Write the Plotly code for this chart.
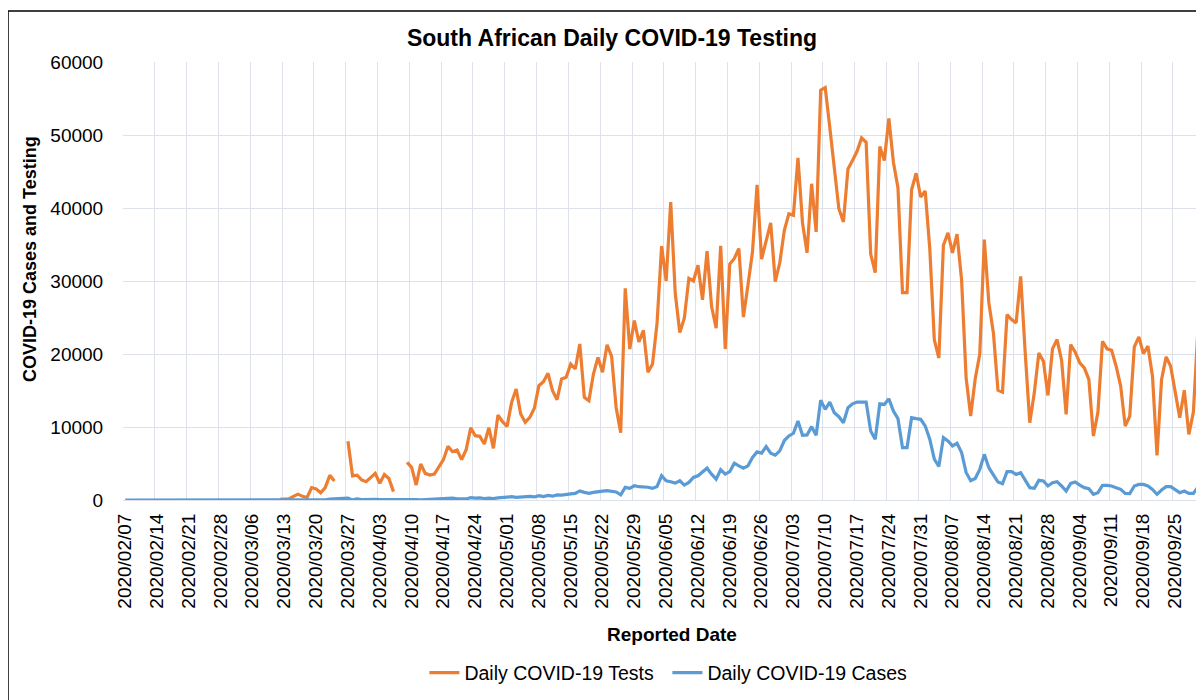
import plotly.graph_objects as go
import pandas as pd

START_DATE = "2020-02-07"

# Daily COVID-19 tests (None = no data reported)
daily_tests = (
    [None] * 34
    + [100, 150, 150, 500, 800, 500, 350, 1700, 1500, 1000, 1700, 3400, 2600]
    + [None, None]
    + [8050, 3300, 3400, 2750, 2500, 3100, 3650, 2300, 3500, 2950, 1150]
    + [None, None]
    + [5160, 4475, 2055, 4930, 3650, 3425, 3560, 4600, 5525, 7350, 6620, 6850,
       5525, 6900, 9900, 8810, 8720, 7670, 9900, 7080, 11640, 10730, 10090,
       13380, 15200, 11780, 10640, 11320, 12560, 15660, 16210, 17350, 14980,
       13740, 16580, 16800, 18630, 17950, 21370, 14060, 13600, 17260, 19540]
    + [17500, 21270, 19680, 12640, 9230, 29000, 20680, 24590, 21640, 23230,
       17500, 18640, 24230, 34770, 30000, 40820, 28320, 22950, 24910, 30360,
       30000, 32180, 27410, 34090, 26500, 23550, 34820, 20680, 32320, 33090,
       34450, 25050, 29450, 34000, 43180, 33000, 35500, 37950, 29900, 32500,
       36950, 39200]
    + [39000, 46860, 37950, 33860, 43320, 36730, 56140, 56500, 51050, 45500,
       39900, 38090, 45360, 46500, 47770, 49590, 49000, 33680, 31140, 48410,
       46500, 52270, 46270, 42770, 28410, 28410, 42500, 44770, 41500, 42320,
       34450, 21950, 19450, 34900, 36590, 33860, 36410, 30140, 16730, 11500,
       16600, 20000]
    + [35660, 27000, 22890, 15050, 14770, 25400, 24720, 24260, 30640, 20150,
       10580, 14680, 20150, 19020, 14320, 20700, 21980, 19150, 11720, 21300,
       20250, 18790, 18100, 16510, 8760, 12040, 21750, 20700, 20520, 18330,
       15600, 10120, 11490, 20980, 22340, 20060, 21070, 16960, 6110, 16510,
       19610, 18330, 14680, 11260, 15050, 8980, 12040, 23440, 21070]
)

# Daily COVID-19 cases
daily_cases = (
    [0] * 27
    + [1, 0, 1, 0, 1, 3, 4]
    + [4, 8, 14, 10, 15, 23, 31, 34, 52, 38, 34, 128, 152, 155, 218, 243, 17, 146, 46]
    + [82, 30, 80, 45, 75, 70, 65, 40, 70, 25, 95, 55, 30, 50, 70, 100, 90, 180,
       150, 250, 145, 175, 145, 320, 250, 300, 200, 250, 200, 300, 355, 380, 450,
       365, 440, 470, 500, 420, 600, 460, 620, 520, 700, 680, 800, 850, 900, 1250,
       1050]
    + [900, 1050, 1180, 1220, 1270, 1180, 1100, 700, 1730, 1590, 1950, 1820,
       1820, 1750, 1590, 1860, 3320, 2640, 2500, 2320, 2640, 2050, 2410, 3090,
       3320, 3860, 4360, 3545, 2860, 4140, 3545, 3900, 5045, 4680, 4360, 4680,
       5820, 6590, 6410, 7320, 6410, 6140, 6730, 8150]
    + [8770, 9140, 10820, 8860, 8910, 10050, 8860, 13680, 12410, 13410, 11950,
       11410, 10590, 12640, 13180, 13410, 13410, 13410, 9450, 8320, 13180, 13090,
       13860, 12180, 11140, 7180, 7180, 11270, 11140, 11050, 10140, 8320, 5590,
       4590, 8550, 8090, 7410, 7770, 6500, 3770, 2640, 2950, 4200]
    + [6250, 4420, 3510, 2460, 2230, 3880, 3880, 3510, 3740, 2740, 1690, 1600,
       2690, 2600, 1920, 2370, 2510, 1920, 1230, 2280, 2460, 2050, 1690, 1550,
       780, 1000, 2010, 2010, 1920, 1690, 1460, 910, 870, 1920, 2140, 2140, 1920,
       1460, 780, 1370, 1820, 1820, 1460, 1000, 1230, 910, 910, 1780, 1780]
)

dates = pd.date_range(START_DATE + " 12:00", periods=len(daily_cases), freq="D")

FONT = "Liberation Sans, Arial, sans-serif"
GRID = "#DCE1EA"

# The page body adds an 8px margin, so the figure is 8px smaller each way.
W, H = 1196, 692

fig = go.Figure()
fig.add_trace(go.Scatter(x=dates, y=daily_tests, mode="lines",
                         name="Daily COVID-19 Tests",
                         line=dict(color="#ED7D31", width=3.2)))
fig.add_trace(go.Scatter(x=dates, y=daily_cases, mode="lines",
                         name="Daily COVID-19 Cases",
                         line=dict(color="#5B9BD5", width=3.2)))

fig.update_layout(
    width=W, height=H,
    margin=dict(l=115, r=0, t=54, b=200),
    paper_bgcolor="white", plot_bgcolor="white",
    font=dict(family=FONT, color="#000000", size=19),
    title=dict(text="<b>South African Daily COVID-19 Testing</b>",
               x=604 / W, xanchor="center", xref="container",
               y=1 - 30 / H, yanchor="middle", yref="container",
               font=dict(size=23, family=FONT, color="#000000")),
    showlegend=True,
    legend=dict(orientation="h", x=0.5036, xanchor="center",
                y=(500 - 673) / 438, yanchor="middle",
                font=dict(size=19.5, family=FONT, color="#000000"),
                itemwidth=30, entrywidth=198, entrywidthmode="pixels",
                bgcolor="rgba(0,0,0,0)"),
    xaxis=dict(
        type="date",
        range=["2020-02-07 00:00", "2020-10-01 20:00"],
        tick0="2020-02-07", dtick=7 * 86400000,
        tickformat="%Y/%m/%d", tickangle=-90,
        tickfont=dict(size=19, family=FONT, color="#000000"),
        showgrid=True, gridcolor=GRID, gridwidth=1.3,
        ticks="outside", ticklen=5, tickcolor="rgba(0,0,0,0)",
        ticklabelshift=2,
        showline=False, zeroline=False,
    ),
    yaxis=dict(
        range=[0, 60000], dtick=10000, tickformat="d",
        tickfont=dict(size=19, family=FONT, color="#000000"),
        showgrid=True, gridcolor=GRID, gridwidth=1.3,
        zeroline=True, zerolinecolor=GRID, zerolinewidth=1.3,
        ticks="outside", ticklen=15, tickcolor="rgba(0,0,0,0)",
        showline=False,
    ),
    annotations=[
        dict(text="<b>Reported Date</b>", xref="paper", yref="paper",
             x=(672 - 123) / 1081, y=(500 - 634) / 438,
             xanchor="center", yanchor="middle", showarrow=False,
             font=dict(size=19, family=FONT, color="#000000")),
        dict(text="<b>COVID-19 Cases and Testing</b>", xref="paper", yref="paper",
             x=(30 - 123) / 1081, y=(500 - 259) / 438, textangle=-90,
             xanchor="center", yanchor="middle", showarrow=False,
             font=dict(size=18, family=FONT, color="#000000")),
    ],
    shapes=[
        dict(type="rect", xref="paper", yref="paper",
             x0=(8 - 123) / 1081, x1=1.2,
             y0=-0.8, y1=(500 - 11) / 438,
             line=dict(color="#000000", width=1.5), fillcolor="rgba(0,0,0,0)",
             layer="below"),
    ],
)

fig.write_html("out.html")
